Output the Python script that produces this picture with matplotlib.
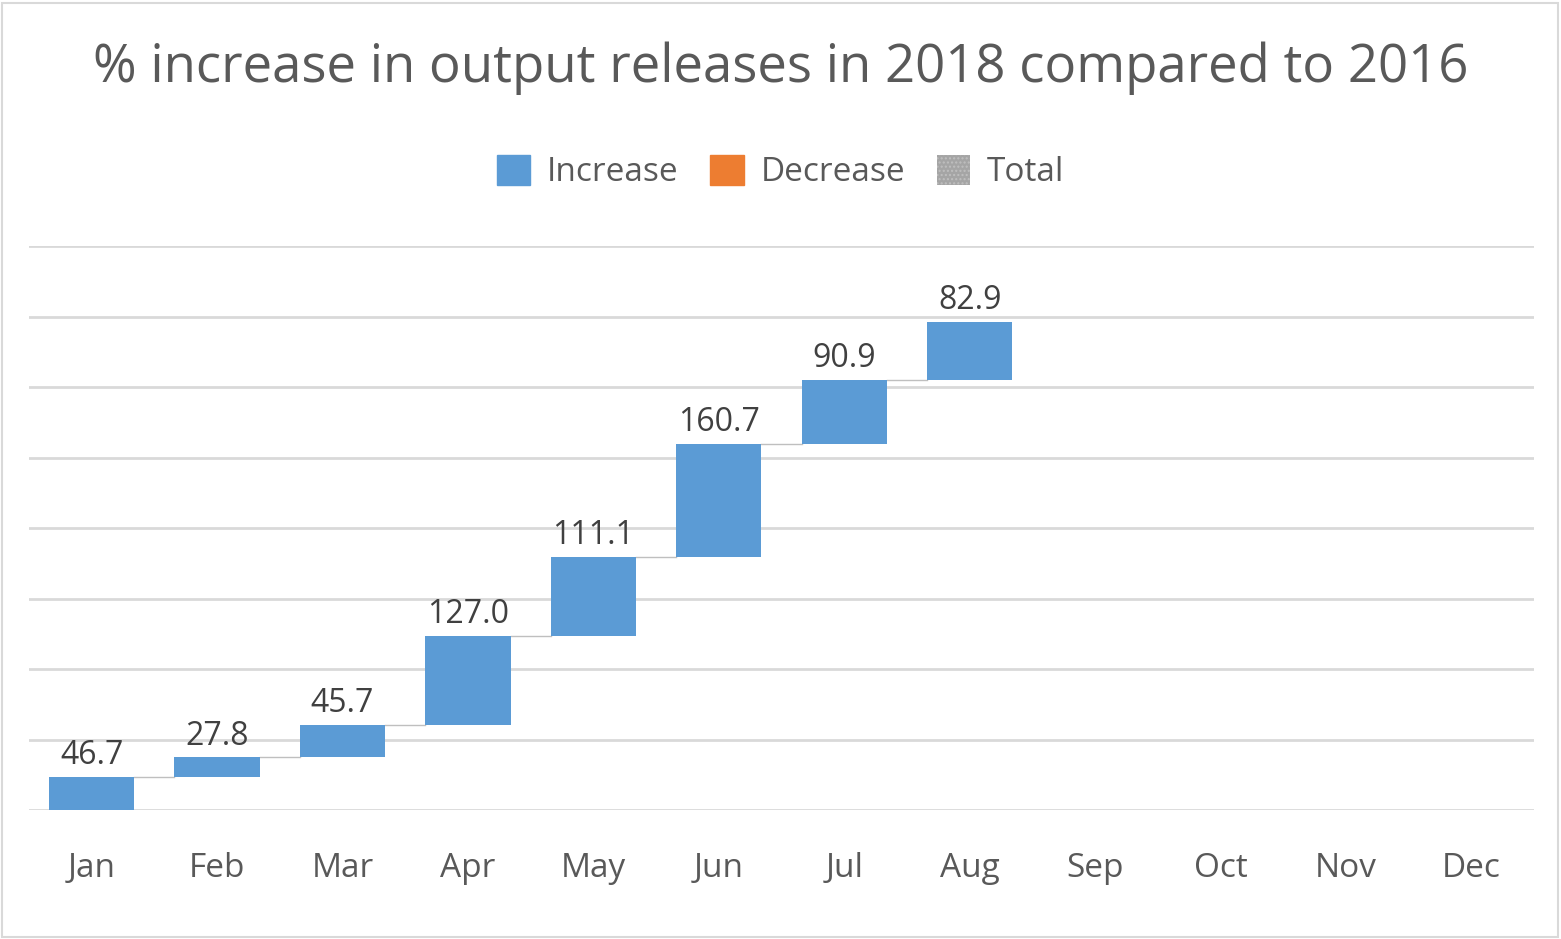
import numpy as np
import matplotlib
matplotlib.use("Agg")
import matplotlib.pyplot as plt
from matplotlib.patches import Patch, Rectangle

plt.rcParams['font.family'] = ['Open Sans', 'DejaVu Sans']

months = ['Jan', 'Feb', 'Mar', 'Apr', 'May', 'Jun', 'Jul', 'Aug', 'Sep', 'Oct', 'Nov', 'Dec']
increase = [46.7, 27.8, 45.7, 127.0, 111.1, 160.7, 90.9, 82.9]

blue = '#5B9BD5'
orange = '#ED7D31'
gray = '#A5A5A5'
text_col = '#595959'

fig = plt.figure(figsize=(15.61, 9.39), dpi=100)
ax = fig.add_axes([29 / 1561, 1 - 810 / 939, 1505 / 1561, 564 / 939])

x = np.arange(len(months))
vals = np.array(increase)
tops = np.cumsum(vals)
bottoms = tops - vals
w = 0.68

ax.bar(x[:len(vals)], vals, bottom=bottoms, width=w, color=blue, zorder=3)

# connector lines
for i in range(len(vals) - 1):
    ax.plot([x[i] + w / 2, x[i + 1] - w / 2], [tops[i], tops[i]],
            color='#BFBFBF', lw=1, zorder=2)

for i, v in enumerate(vals):
    ax.text(x[i], tops[i] + 7, f'{v:.1f}', ha='center', va='bottom',
            fontsize=23, color='#404040')

ax.set_xlim(-0.5, len(months) - 0.5)
ax.set_ylim(0, 800)
ax.set_yticks(np.arange(0, 801, 100))
ax.yaxis.grid(True, color='#D9D9D9', lw=2, zorder=0)
ax.tick_params(axis='y', left=False, labelleft=False)
ax.set_xticks(x)
ax.set_xticklabels(months, fontsize=24, color=text_col)
ax.tick_params(axis='x', length=0, pad=30)
for s in ax.spines.values():
    s.set_visible(False)

fig.text(0.5, 1 - 68 / 939, '% increase in output releases in 2018 compared to 2016',
         ha='center', va='center', fontsize=38, color=text_col)

handles = [Patch(color=blue, label='Increase'),
           Patch(color=orange, label='Decrease'),
           Patch(facecolor=gray, edgecolor='#BFBFBF', hatch='....', lw=0, label='Total')]
fig.legend(handles=handles, loc='center', bbox_to_anchor=(0.5, 1 - 172 / 939),
           ncol=3, frameon=False, fontsize=24, handlelength=1.0, handleheight=1.0,
           handletextpad=0.5, columnspacing=0.95, labelcolor=text_col)

fig.patches.append(Rectangle((2 / 1561, 2 / 939), 1 - 5 / 1561, 1 - 5 / 939,
                             transform=fig.transFigure, fill=False,
                             edgecolor='#D9D9D9', lw=1.5))

fig.savefig('out.png', dpi=100)
